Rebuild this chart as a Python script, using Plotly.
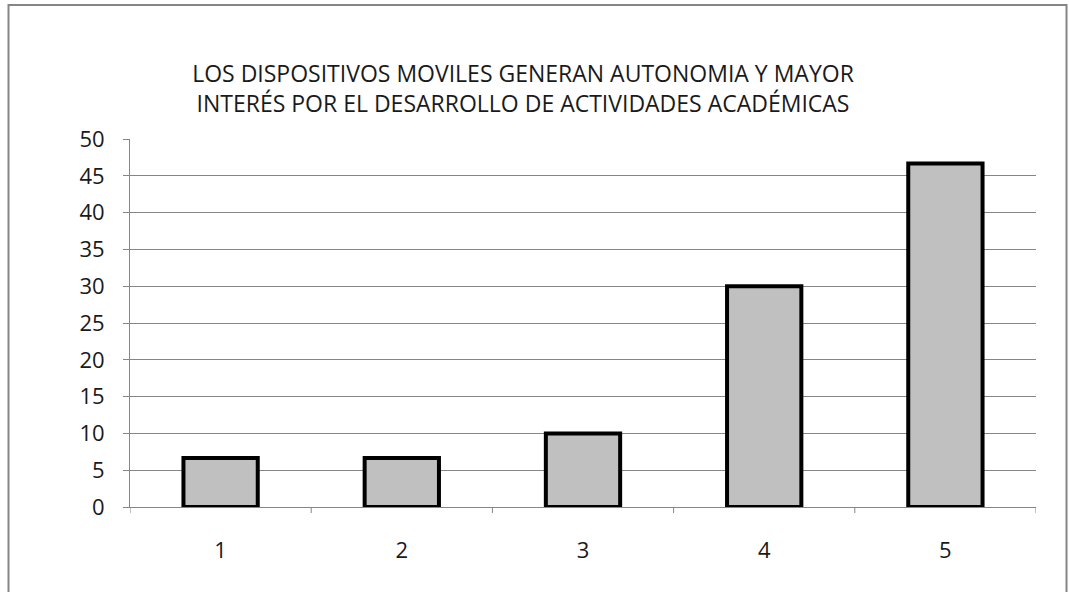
import plotly.graph_objects as go

categories = ["1", "2", "3", "4", "5"]
values = [6.67, 6.67, 10, 30, 46.67]
y_ticks = [0, 5, 10, 15, 20, 25, 30, 35, 40, 45, 50]
title_lines = ["LOS DISPOSITIVOS MOVILES GENERAN AUTONOMIA Y MAYOR",
               "INTERÉS POR EL DESARROLLO DE ACTIVIDADES ACADÉMICAS"]

W, H = 1069, 592
L, R, T, B = 130, 33, 139, 85
pw, ph = W - L - R, H - T - B

fig = go.Figure(go.Bar(
    x=categories, y=values,
    marker=dict(color="#c0c0c0", line=dict(color="#000000", width=4)),
    width=0.41,
))

font = dict(family="Open Sans, Lato, sans-serif", color="#1a1a1a")

fig.update_layout(
    width=W, height=H,
    margin=dict(l=L, r=R, t=T, b=B),
    paper_bgcolor="white", plot_bgcolor="white",
    showlegend=False,
    font=font,
    title=dict(text="<br>".join(title_lines), x=523 / W, xanchor="center",
               y=1 - 82 / H, yanchor="middle",
               font=dict(family=font["family"], size=23, color="#1a1a1a")),
    xaxis=dict(
        type="category", range=[-0.5, 4.5],
        showline=True, linecolor="#868686", linewidth=1,
        ticks="", showgrid=False,
        tickfont=dict(size=22), ticklabelstandoff=24,
    ),
    yaxis=dict(
        range=[0, 50], tickvals=y_ticks,
        showline=True, linecolor="#868686", linewidth=1,
        ticks="outside", ticklen=6, tickcolor="#868686",
        showgrid=True, gridcolor="#868686", gridwidth=1,
        tickfont=dict(size=22), zeroline=False, ticklabelstandoff=14,
    ),
    bargap=0.59,
)

# category divider tick marks on x axis
for i in range(6):
    fig.add_shape(type="line", xref="x", yref="paper",
                  x0=i - 0.5, x1=i - 0.5, y0=0, y1=-6 / ph,
                  line=dict(color="#868686", width=1))

# outer chart frame
fig.add_shape(type="rect", xref="paper", yref="paper",
              x0=(8.5 - L) / pw, x1=(1066.5 - L) / pw,
              y0=-(B + 10) / ph, y1=1 + (T - 5) / ph,
              line=dict(color="#858585", width=2), fillcolor="rgba(0,0,0,0)",
              layer="below")

fig.write_html("out.html", config={"displayModeBar": False},
               post_script="document.body.style.margin='0';document.body.style.overflow='hidden';")
